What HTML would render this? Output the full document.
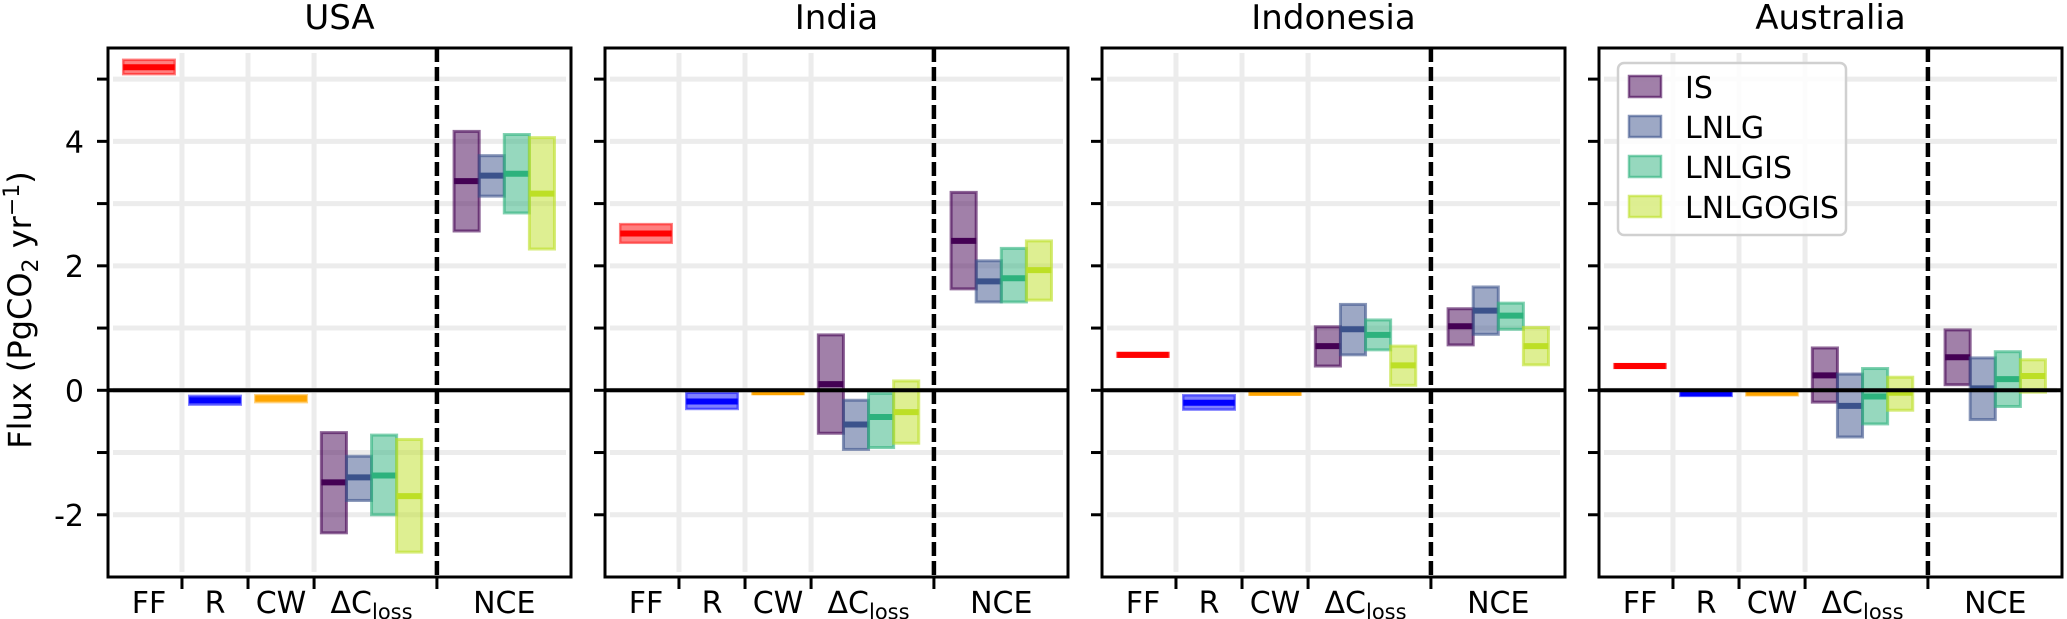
<!DOCTYPE html>
<html><head><meta charset="utf-8"><style>
html,body{margin:0;padding:0;background:#fff;}
svg{display:block;font-family:"DejaVu Sans","Liberation Sans",sans-serif;}
</style></head><body>
<svg id="chart" width="2067" height="619" viewBox="0 0 2067 619">
<text x="0" y="0" transform="translate(31,310) rotate(-90)" text-anchor="middle" font-size="32">Flux (PgCO<tspan font-size="22" dy="7">2</tspan><tspan dy="-7"> yr</tspan><tspan font-size="22" dy="-12">−1</tspan><tspan dy="12">)</tspan></text>
</svg>
<script>
const regions = ["USA","India","Indonesia","Australia"];
const singleCats = ["FF","R","CW"];
const singleColors = ["#ff0000","#0000ff","#ffa500"];
const experiments = ["IS","LNLG","LNLGIS","LNLGOGIS"];
const expColors = ["#440154","#3b528b","#2db27d","#bddf26"];
const yTicks = [-2,0,2,4];
const yMinorTicks = [-1,1,3,5];
const yGrid = [-2,-1,0,1,2,3,4,5];
// single flux [lo, med, hi] per region for FF, R, CW
const ffVals = [[5.08,5.19,5.31],[2.37,2.52,2.67],[0.54,0.57,0.60],[0.36,0.39,0.42]];
const rVals = [[-0.23,-0.16,-0.09],[-0.30,-0.18,-0.04],[-0.31,-0.20,-0.08],[-0.09,-0.05,-0.01]];
const cwVals = [[-0.19,-0.13,-0.08],[-0.06,-0.03,0.0],[-0.07,-0.04,0.0],[-0.08,-0.04,-0.01]];
// dC_loss [lo, med, hi] per region per experiment
const dcVals = [
 [[-2.29,-1.48,-0.68],[-1.77,-1.40,-1.06],[-2.0,-1.37,-0.72],[-2.6,-1.70,-0.79]],
 [[-0.69,0.10,0.89],[-0.95,-0.55,-0.16],[-0.92,-0.43,-0.05],[-0.85,-0.35,0.15]],
 [[0.39,0.71,1.02],[0.57,0.98,1.38],[0.65,0.89,1.13],[0.08,0.40,0.71]],
 [[-0.19,0.24,0.68],[-0.75,-0.25,0.26],[-0.54,-0.10,0.35],[-0.32,-0.04,0.21]]
];
const nceVals = [
 [[2.56,3.36,4.16],[3.12,3.45,3.77],[2.85,3.48,4.11],[2.27,3.16,4.06]],
 [[1.63,2.40,3.18],[1.42,1.75,2.08],[1.42,1.80,2.28],[1.45,1.93,2.40]],
 [[0.73,1.03,1.31],[0.90,1.28,1.66],[0.98,1.20,1.40],[0.41,0.71,1.01]],
 [[0.09,0.53,0.97],[-0.47,0.03,0.52],[-0.26,0.18,0.62],[-0.03,0.23,0.49]]
];
const NS="http://www.w3.org/2000/svg";
const svgEl=document.getElementById('chart');
function mk(tag,attrs,parent){const e=document.createElementNS(NS,tag);for(const k in attrs)e.setAttribute(k,attrs[k]);(parent||svgEl).appendChild(e);return e;}
const panelLefts=[108,605,1102,1599], pw=463, plotTop=48, plotBot=577;
const yMin=-3, yMax=5.5;
const Y=v=>plotBot-(v-yMin)/(yMax-yMin)*(plotBot-plotTop);
const xMin=-0.62, xMax=6.39;
const catX=[0,1,2,3.37,5.38], dashX=4.36, boxW=0.38;
regions.forEach((reg,p)=>{
  const L=panelLefts[p];
  const X=v=>L+(v-xMin)/(xMax-xMin)*pw;
  const g=mk('g',{});
  
  
  yGrid.forEach(v=>{const l=mk('line',{x1:L+5,x2:L+pw-5,y1:Y(v),y2:Y(v),stroke:'#ececec','stroke-width':5},g);
    
    });
  [0.5,1.5,2.5].forEach(v=>{const l=mk('line',{x1:X(v),x2:X(v),y1:plotTop+5,y2:plotBot-5,stroke:'#ececec','stroke-width':5},g);
    
    });
  [ffVals,rVals,cwVals].forEach((arr,i)=>{
    const d=arr[p], x0=X(catX[i]-0.39), x1=X(catX[i]+0.39);
    const r=mk('rect',{x:x0,y:Y(d[2]),width:x1-x0,height:Math.max(Y(d[0])-Y(d[2]),1),fill:singleColors[i],'fill-opacity':0.5,stroke:singleColors[i],'stroke-opacity':0.5,'stroke-width':2.5},g);
    
    
    const m=mk('line',{x1:x0,x2:x1,y1:Y(d[1]),y2:Y(d[1]),stroke:singleColors[i],'stroke-width':6},g);
    
    
  });
  [[dcVals,3,'dcloss'],[nceVals,4,'nce']].forEach(([arr,ci,nm])=>{
    arr[p].forEach((d,k)=>{
      const c=catX[ci]+(k-1.5)*boxW, x0=X(c-boxW/2), x1=X(c+boxW/2);
      const r=mk('rect',{x:x0,y:Y(d[2]),width:x1-x0,height:Y(d[0])-Y(d[2]),fill:expColors[k],'fill-opacity':0.5,stroke:expColors[k],'stroke-opacity':0.6,'stroke-width':3},g);
      
      
      const m=mk('line',{x1:x0,x2:x1,y1:Y(d[1]),y2:Y(d[1]),stroke:expColors[k],'stroke-width':6},g);
      
      
    });
  });
  const z=mk('line',{x1:L,x2:L+pw,y1:Y(0),y2:Y(0),stroke:'#000','stroke-width':4},g);
  
  
  const dl=mk('line',{x1:X(dashX),x2:X(dashX),y1:plotTop,y2:plotBot,stroke:'#000','stroke-width':4.5,'stroke-dasharray':'14,5'},g);
  
  
  const fr=mk('rect',{x:L,y:plotTop,width:pw,height:plotBot-plotTop,fill:'none',stroke:'#000','stroke-width':3},g);
  
  
  yTicks.concat(yMinorTicks).forEach(v=>{const t=mk('line',{x1:L-11,x2:L,y1:Y(v),y2:Y(v),stroke:'#000','stroke-width':3},g);
    
    });
  if(p===0){yTicks.forEach(v=>{const t=mk('text',{x:L-24,y:Y(v)+11,'text-anchor':'end','font-size':30},g);t.textContent=String(v);
    
    });}
  [0.5,1.5,2.5,dashX].forEach(v=>{const t=mk('line',{x1:X(v),x2:X(v),y1:plotBot,y2:plotBot+12,stroke:'#000','stroke-width':3},g);
    
    });
  const labs=['FF','R','CW',null,'NCE'];
  catX.forEach((v,i)=>{
    const t=mk('text',{x:X(v),y:plotBot+36,'text-anchor':'middle','font-size':30},g);
    if(labs[i]) t.textContent=labs[i];
    else { t.textContent='ΔC'; const s=mk('tspan',{'font-size':21,dy:6},t); s.textContent='loss'; }
    
    
  });
  const ti=mk('text',{x:L+pw/2,y:29,'text-anchor':'middle','font-size':34},g);
  ti.textContent=reg;
  
  
});
const lg=mk('g',{});


mk('rect',{x:1618,y:63,width:228,height:172,rx:6,fill:'#fff','fill-opacity':0.85,stroke:'#d0d0d0','stroke-width':2.5},lg);
experiments.forEach((e,k)=>{
  const yc=87+k*40;
  const it=mk('g',{},lg);
  
  
  mk('rect',{x:1629,y:yc-11,width:32,height:21,fill:expColors[k],'fill-opacity':0.5,stroke:expColors[k],'stroke-opacity':0.6,'stroke-width':2.5},it);
  const t=mk('text',{x:1685,y:yc+11,'font-size':30},it);t.textContent=e;
});
</script>
</body></html>
